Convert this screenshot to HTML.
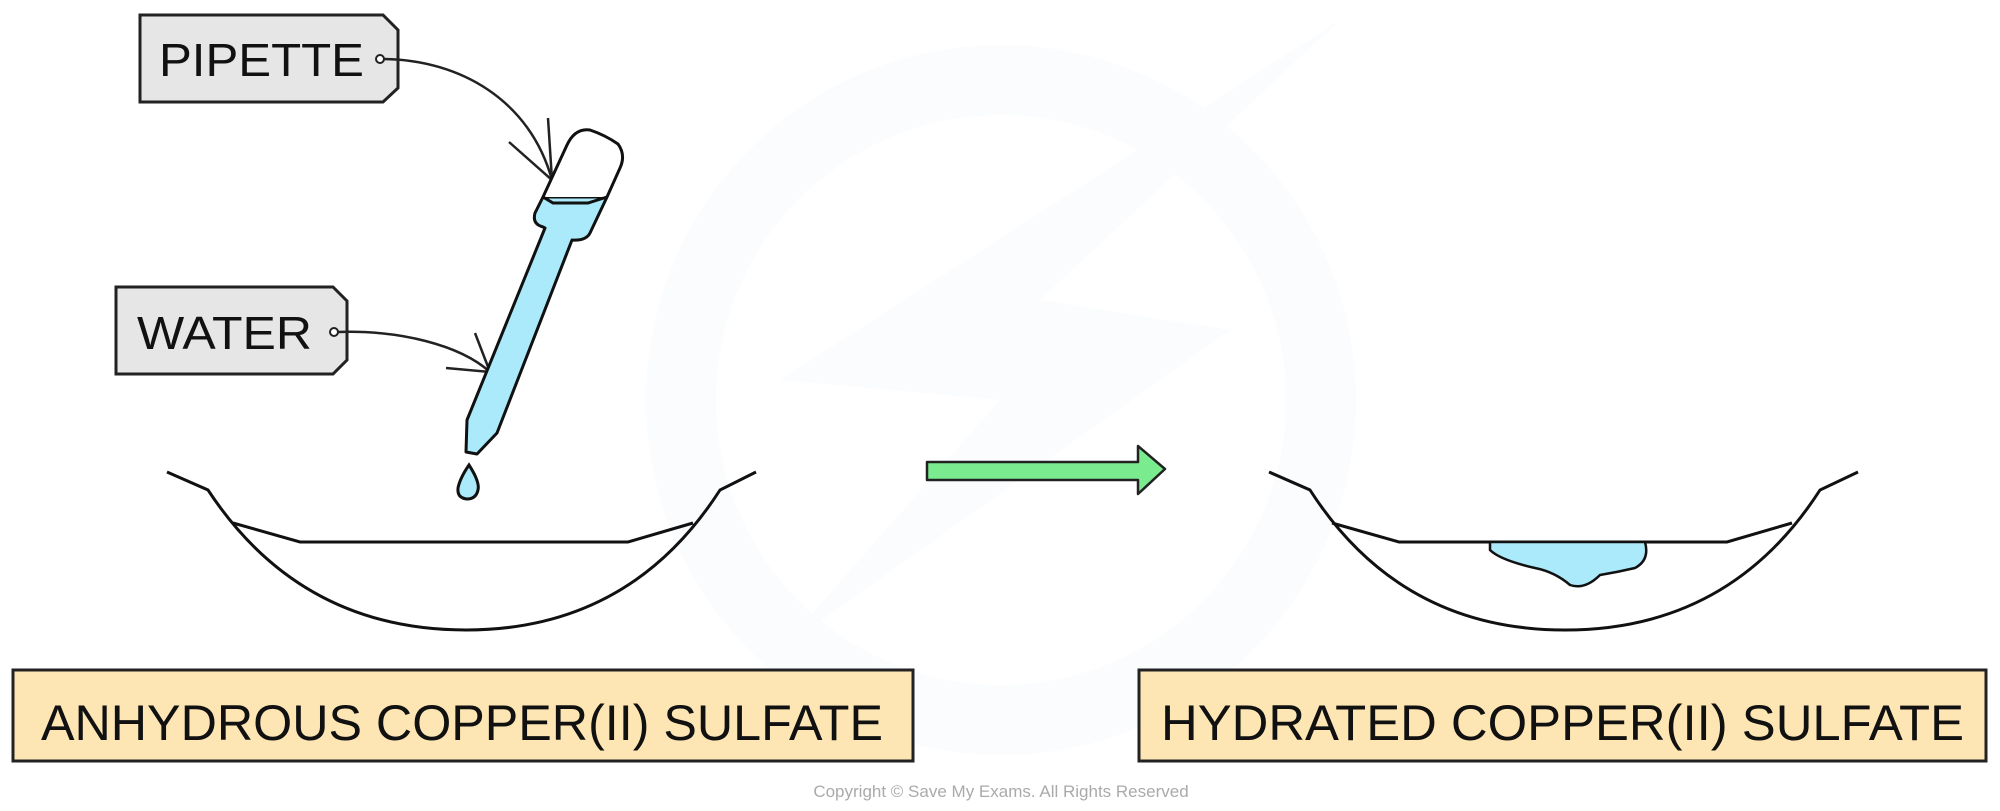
<!DOCTYPE html>
<html><head><meta charset="utf-8"><style>
html,body{margin:0;padding:0;background:#fff;}
svg{display:block;}
text{font-family:"Liberation Sans",sans-serif;}
</style></head><body>
<svg width="2000" height="811" viewBox="0 0 2000 811" xmlns="http://www.w3.org/2000/svg">
<!-- watermark -->
<circle cx="1001" cy="400" r="320" fill="none" stroke="#fbfcfe" stroke-width="70"/>
<path d="M1340 20 L780 380 L1000 400 L780 650 L1230 330 L1040 300 Z" fill="#fbfcfe"/>

<!-- PIPETTE tag -->
<path d="M140 15 H383 L398 30 V88 L383 102 H140 Z" fill="#e6e6e6" stroke="#222" stroke-width="3"/>
<text x="159" y="76" font-size="46" textLength="205" lengthAdjust="spacingAndGlyphs" fill="#111">PIPETTE</text>
<circle cx="380" cy="59" r="4" fill="#fff" stroke="#222" stroke-width="2"/>
<path d="M384 59 C460 60 530 100 552 180" fill="none" stroke="#222" stroke-width="2.5"/>
<path d="M548 118 L552 180 L509 142" fill="none" stroke="#222" stroke-width="2.5"/>

<!-- WATER tag -->
<path d="M116 287 H333 L347 301 V360 L333 374 H116 Z" fill="#e6e6e6" stroke="#222" stroke-width="3"/>
<text x="137" y="349" font-size="46" textLength="175" lengthAdjust="spacingAndGlyphs" fill="#111">WATER</text>
<circle cx="334" cy="332" r="4" fill="#fff" stroke="#222" stroke-width="2"/>
<path d="M338 332 C400 330 460 345 490 372" fill="none" stroke="#222" stroke-width="2.5"/>
<path d="M475 333 L490 372 L446 368" fill="none" stroke="#222" stroke-width="2.5"/>

<!-- pipette -->
<path d="M543 197 L535 213 Q532 224 543 227 L545 228 L467 420 L466 452 L477 454 L497 433 L572 240 Q586 241 590 233 L607 197 Z" fill="#aaeafb" stroke="#111" stroke-width="3" stroke-linejoin="round"/>
<path d="M543 197 L567 145 Q575 128 590 130 Q605 135 618 144 Q626 155 620 168 L607 197" fill="#fff" stroke="#111" stroke-width="3" stroke-linejoin="round"/>
<path d="M543 197 L553 203 L588 203 L607 197" fill="none" stroke="#111" stroke-width="3"/>
<path d="M469 465 Q480 482 478 490 Q476 499 467 499 Q457 498 458 488 Q460 478 469 465 Z" fill="#aaeafb" stroke="#111" stroke-width="3"/>

<!-- left bowl -->
<path d="M167 472 L208 490 Q300 630 466 630 Q630 630 720 490 L756 472" fill="none" stroke="#111" stroke-width="3"/>
<path d="M233 523 L300 542 H628 L693 523" fill="none" stroke="#111" stroke-width="3"/>

<!-- arrow -->
<path d="M927 462 H1138 V446 L1165 469 L1138 494 V480 H927 Z" fill="#7beb8f" stroke="#222" stroke-width="2.5" stroke-linejoin="round"/>

<!-- right bowl -->
<path d="M1269 472 L1310 490 Q1400 630 1565 630 Q1730 630 1820 490 L1858 472" fill="none" stroke="#111" stroke-width="3"/>
<path d="M1332 523 L1399 542 H1727 L1792 523" fill="none" stroke="#111" stroke-width="3"/>
<path d="M1490 542 L1645 542 Q1650 560 1635 568 Q1618 572 1600 575 Q1585 590 1570 585 Q1555 572 1535 568 Q1500 560 1490 550 Z" fill="#aaeafb" stroke="#111" stroke-width="2.5"/>

<!-- labels -->
<rect x="13" y="670" width="900" height="91" fill="#fde6b3" stroke="#222" stroke-width="3"/>
<text x="41" y="740" font-size="50" textLength="842" lengthAdjust="spacingAndGlyphs" fill="#111">ANHYDROUS  COPPER(II)  SULFATE</text>
<rect x="1139" y="670" width="847" height="91" fill="#fde6b3" stroke="#222" stroke-width="3"/>
<text x="1161" y="740" font-size="50" textLength="803" lengthAdjust="spacingAndGlyphs" fill="#111">HYDRATED  COPPER(II)  SULFATE</text>

<text x="1001" y="797" font-size="17" text-anchor="middle" fill="#aaa">Copyright © Save My Exams. All Rights Reserved</text>
</svg>
</body></html>
